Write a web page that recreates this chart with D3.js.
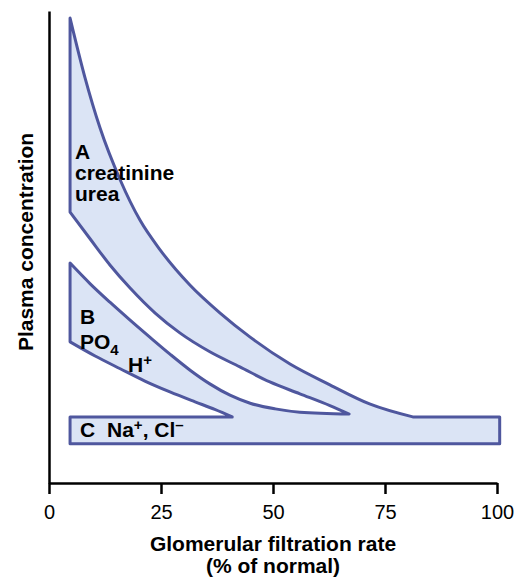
<!DOCTYPE html>
<html>
<head>
<meta charset="utf-8">
<script src="https://cdn.jsdelivr.net/npm/d3@7"></script>
<style>
    body { margin: 0; background: #fff; }
    svg { display: block; font-family: "Liberation Sans", Arial, Helvetica, sans-serif; }
</style>
</head>
<body>
<svg id="chart"></svg>
<script>
// x: glomerular filtration rate (% of normal), y: plasma concentration (relative units)
const gfrTicks = [0, 25, 50, 75, 100];

// group A: creatinine, urea
const aUpper = [[4.7, 98.5], [8, 86], [11.4, 75.2], [15.9, 64.2], [20.3, 55.7], [24.8, 49.4], [31.5, 41.9],
    [38.2, 36], [44.9, 30.9], [53.8, 25.2], [62.7, 20.8], [71.7, 16.7], [81.2, 14]];
const aLower = [[4.7, 57.4], [9.2, 51.7], [13.6, 46.2], [18.1, 41.3], [23.7, 36], [29.2, 31.8], [35.9, 27.8],
    [42.6, 24.6], [49.3, 21.4], [56, 18.9], [62.7, 16.4], [67, 14.6]];

// group B: PO4, H+
const bUpper = [[4.7, 46.6], [9.2, 42.2], [13.6, 38.3], [18.1, 34.5], [22.5, 30.9], [27, 27.3], [31.5, 23.9],
    [35.9, 21], [40.4, 18.6], [44.9, 16.9], [50.5, 15.7], [56, 15], [67, 14.6]];
const bLower = [[4.7, 29.9], [10.3, 26.9], [15.9, 24.2], [21.4, 21.6], [27, 19.3], [32.6, 17.2], [37, 15.6], [40.9, 14]];

// group C: Na+, Cl-
const cRange = [4.7, 100.6];
const cLevels = [8.3, 14];

const W = 519, H = 578;
const svg = d3.select('#chart').attr('width', W).attr('height', H);

const x = d3.scaleLinear().domain([0, 100]).range([49, 497]);
const y = d3.scaleLinear().domain([0, 100]).range([483, 11]);

const seg = pts => d3.line()
    .x(d => x(d[0]))
    .y(d => y(d[1]))
    .curve(d3.curveMonotoneX)(pts)
    .replace(/^M/, 'L');

// one outline: C top -> B -> white gap -> A -> C right end
const outline =
    `M${x(cRange[0])},${y(cLevels[1])}` +
    `L${x(bLower[bLower.length - 1][0])},${y(cLevels[1])}` +
    seg(bLower.slice().reverse()) +
    seg(bUpper) +
    seg(aLower.slice().reverse()) +
    seg(aUpper) +
    `L${x(cRange[1])},${y(cLevels[1])}` +
    `L${x(cRange[1])},${y(cLevels[0])}` +
    `L${x(cRange[0])},${y(cLevels[0])}Z`;

svg.append('path')
    .attr('d', outline)
    .attr('fill', '#dbe4f5')
    .attr('stroke', '#4f579e')
    .attr('stroke-width', 3)
    .attr('stroke-linejoin', 'round');

// Axes
const xAxis = svg.append('g')
    .attr('transform', `translate(0,${y(0)})`)
    .call(d3.axisBottom(x).tickValues(gfrTicks).tickSize(11).tickSizeOuter(0).tickPadding(11));
xAxis.select('.domain').attr('stroke', '#000').attr('stroke-width', 2.5);
xAxis.selectAll('.tick line').attr('stroke', '#000').attr('stroke-width', 2.5);
xAxis.selectAll('.tick text')
    .attr('font-family', '"Liberation Sans", Arial, sans-serif')
    .attr('font-size', '20px')
    .attr('fill', '#000');

const yAxis = svg.append('g')
    .attr('transform', `translate(${x(0)},0)`)
    .call(d3.axisLeft(y).tickValues([]).tickSizeOuter(0));
yAxis.select('.domain').attr('stroke', '#000').attr('stroke-width', 2.5);

// Axis titles
svg.append('text')
    .attr('x', 273).attr('y', 551)
    .attr('text-anchor', 'middle')
    .attr('font-size', '21px').attr('font-weight', 'bold')
    .text('Glomerular filtration rate');
svg.append('text')
    .attr('x', 273).attr('y', 573)
    .attr('text-anchor', 'middle')
    .attr('font-size', '21px').attr('font-weight', 'bold')
    .text('(% of normal)');

svg.append('text')
    .attr('transform', 'translate(33,242) rotate(-90)')
    .attr('text-anchor', 'middle')
    .attr('font-size', '21px').attr('font-weight', 'bold')
    .text('Plasma concentration');

// Region labels
const lab = (px, py) => svg.append('text')
    .attr('x', px).attr('y', py)
    .attr('font-size', '21px').attr('font-weight', 'bold')
    .attr('fill', '#000');

lab(75, 159).text('A');
lab(75, 180).text('creatinine');
lab(75, 201).text('urea');

lab(80, 324).text('B');
const po4 = lab(80, 349);
po4.append('tspan').text('PO');
po4.append('tspan').attr('dy', 6).attr('font-size', '15px').text('4');
const hp = lab(128, 372);
hp.append('tspan').text('H');
hp.append('tspan').attr('dy', -7).attr('font-size', '15px').text('+');

lab(80, 437).text('C');
const na = lab(107, 437);
na.append('tspan').text('Na');
na.append('tspan').attr('dy', -7).attr('font-size', '15px').text('+');
na.append('tspan').attr('dy', 7).text(', Cl');
na.append('tspan').attr('dy', -7).attr('font-size', '15px').text('\u2013');
</script>
</body>
</html>
